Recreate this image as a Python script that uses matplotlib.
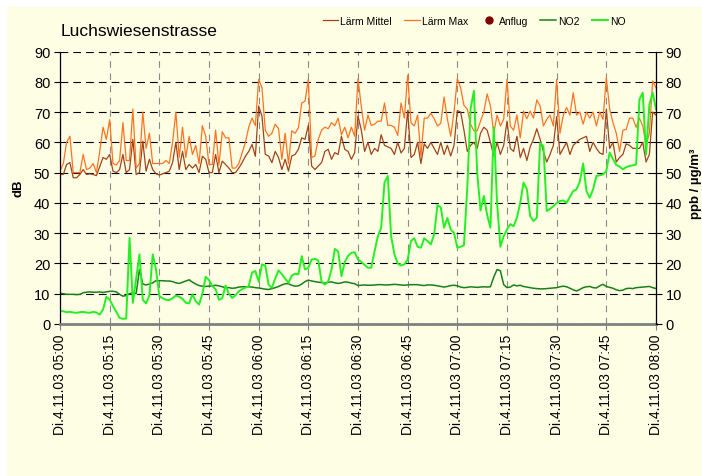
import numpy as np
import matplotlib.pyplot as plt
from matplotlib.patches import Rectangle

plt.rcParams['font.family'] = ['Liberation Sans', 'DejaVu Sans']

# -----------------------------
# DATA (one value per minute, 05:00 - 08:00)
# -----------------------------

title = "Luchswiesenstrasse"

tick_labels = [
    "Di.4.11.03 05:00", "Di.4.11.03 05:15", "Di.4.11.03 05:30",
    "Di.4.11.03 05:45", "Di.4.11.03 06:00", "Di.4.11.03 06:15",
    "Di.4.11.03 06:30", "Di.4.11.03 06:45", "Di.4.11.03 07:00",
    "Di.4.11.03 07:15", "Di.4.11.03 07:30", "Di.4.11.03 07:45",
    "Di.4.11.03 08:00",
]

laerm_mittel = [
    49.4, 49.4, 52.7, 53.3, 48.3, 48.3, 49.4, 51, 49.4, 49.6,
    49.4, 49, 52, 55, 54.4, 56, 50.5, 50, 51, 56,
    50, 51, 61, 49.4, 50, 60.4, 50.5, 54.4, 51, 49.6,
    49.2, 49.6, 50, 50.5, 53.3, 60, 51, 57, 51, 52.7,
    51.5, 52.7, 50, 55.4, 54.4, 50, 50, 56, 50, 53.8,
    52.7, 51.5, 50, 50, 51.5, 53.3, 55.4, 57, 59.3, 55.4,
    72, 68.7, 56, 55.5, 53.3, 57, 55, 51, 54.4, 50.5,
    55.5, 56, 57.7, 61.5, 61, 65.6, 52.2, 51, 52.2, 53.3,
    57, 57.7, 54.4, 56.6, 56, 62, 57.7, 57, 54.4, 56.6,
    68.7, 64, 57, 60, 56, 58, 57, 62.5, 59, 58.5,
    58, 56, 60, 56.5, 58, 70.5, 55, 56, 60, 53,
    59.5, 58, 60, 58, 56, 60, 56, 59, 55.5, 59,
    70.5, 70, 64, 57, 59, 60, 58, 63, 65, 64,
    60, 55.5, 60, 56, 59, 67, 58, 57, 62, 55,
    58, 54, 58.5, 61, 64.5, 61, 57, 53.5, 56, 59,
    68.5, 56, 58, 60, 56, 59, 60, 61, 61.5, 62,
    57, 60, 58, 56.5, 56, 71, 58, 60, 53.5, 55,
    56, 59.5, 59, 58, 58, 58, 60, 53.5, 56, 70,
    69,
]

laerm_max = [
    50.5, 53, 60, 62, 50, 50, 50, 56, 51, 51.5,
    53, 50, 57, 65, 61, 67.5, 53, 52.5, 54, 66.5,
    54, 54, 71, 51.5, 53, 70, 58, 63, 53, 53,
    53, 53, 54, 53, 60, 70, 55, 65, 55, 62,
    56, 59, 53, 65.5, 62, 52.7, 52.7, 64, 52.5, 63.5,
    61.5, 61.5, 51.5, 51.5, 53, 56.5, 60, 65, 68, 65.5,
    80.8, 78, 64, 62, 63, 66, 64.5, 54.4, 63, 53,
    63.8, 63, 64.8, 73, 73.6, 80.8, 55, 55.5, 61, 64,
    65, 64.5, 66.5, 65.5, 68, 62.5, 65, 61.5, 65, 62,
    81, 71.8, 64, 69, 65.6, 66, 67, 67, 73, 65.6,
    65.6, 65, 62.3, 73, 68, 82.2, 66.5, 65.4, 69, 55.4,
    68, 68, 69.6, 67.8, 65.4, 66.3, 75, 67.6, 62, 70,
    81, 78, 72.2, 71, 66, 63.8, 63.8, 67, 70, 76,
    72, 63, 69, 65.4, 67.6, 80.8, 65.4, 64, 69, 61.5,
    70.3, 67.8, 70.3, 68, 74, 72, 65.4, 67.6, 69, 65.4,
    80.8, 63, 69, 71.5, 69, 76.4, 69, 70, 66, 70,
    68, 70, 65.4, 70, 67.6, 81.4, 71, 66.5, 63, 57,
    64, 64.3, 68, 68, 65, 68, 65.4, 59, 63, 80.3,
    78,
]

no2 = [
    10.2, 10.0, 9.8, 9.8, 9.8, 9.7, 9.8, 10.3, 10.5, 10.6,
    10.5, 10.5, 10.6, 10.4, 10.6, 10.8, 10.8, 10.6, 9.8, 9.2,
    9.4, 10.0, 10.4, 10.0, 18.0, 13.2, 12.9, 13.2, 13.6, 14.3,
    14.3, 14.3, 14.2, 14.2, 14.0, 13.6, 13.4, 13.8, 14.2, 14.6,
    13.8, 13.2, 12.7, 12.5, 12.4, 12.5, 12.6, 12.8, 12.6, 12.3,
    12.0, 12.0, 11.8, 11.9, 12.2, 12.3, 12.3, 12.3, 12.2, 12.0,
    11.9, 11.7, 11.5, 11.4, 11.7, 12.0, 12.4, 12.9, 13.3, 13.3,
    12.8, 12.5, 12.6, 13.2, 14.0, 14.5, 14.2, 14.0, 13.8, 13.7,
    13.5, 13.8, 13.9, 13.6, 13.4, 13.6, 13.9, 13.8, 13.5, 13.3,
    12.7, 12.8, 12.9, 12.8, 12.8, 12.9, 13.0, 13.0, 12.9, 12.9,
    13.0, 13.1, 13.0, 12.9, 12.8, 12.9, 13.0, 13.0, 13.0, 12.8,
    12.7, 12.9, 12.9, 12.8, 12.6, 12.4, 12.2, 12.4, 12.7, 12.8,
    12.6, 12.2, 12.0, 12.1, 12.3, 12.2, 12.1, 12.2, 12.3, 12.2,
    12.3, 15.5, 18.0, 17.6, 13.0, 12.0, 12.2, 12.9, 12.6, 12.8,
    12.4, 12.2, 12.0, 11.8, 11.7, 11.6, 11.6, 11.7, 11.8, 11.9,
    12.0, 12.3, 12.5, 12.3, 11.8, 11.3, 10.9, 11.4, 12.0, 12.3,
    12.4, 12.0, 11.9, 12.6, 13.1, 12.4, 12.1, 11.8, 11.3, 11.0,
    11.2, 11.7, 11.8, 11.7, 12.0, 12.1, 12.2, 12.3, 12.4, 12.0,
    11.7,
]

no = [
    4.3, 4.2, 3.9, 4.0, 3.8, 3.7, 3.9, 4.0, 3.8, 3.7,
    4.0, 3.8, 3.1, 4.8, 9.0, 8.1, 5.9, 4.0, 2.0, 1.7,
    1.8, 28.5, 7.0, 15.0, 23.0, 8.0, 6.8, 9.5, 23.0, 18.0,
    9.2, 8.5, 8.0, 7.9, 8.5, 9.4, 9.0, 8.3, 7.0, 6.8,
    9.8, 7.5, 6.4, 10.0, 15.6, 14.5, 12.5, 11.5, 8.0, 8.5,
    12.7, 10.0, 8.6, 9.5, 10.8, 11.5, 12.0, 12.5, 17.0, 17.5,
    14.0, 19.7, 19.3, 13.0, 12.0, 15.0, 17.7, 16.5, 15.0, 13.6,
    16.0, 16.6, 16.4, 22.4, 18.0, 18.6, 21.3, 21.5, 21.0, 14.0,
    13.0, 14.0, 18.0, 24.8, 24.0, 15.8, 20.5, 22.5, 23.5, 23.7,
    21.3, 20.5, 19.5, 18.6, 18.6, 24.0, 29.0, 31.8, 46.7, 48.9,
    29.0, 23.0, 20.0, 19.3, 19.7, 21.3, 27.4, 28.3, 25.5, 25.2,
    28.3, 27.4, 26.3, 29.6, 39.3, 38.5, 31.8, 35.0, 31.2, 30.1,
    25.2, 25.5, 26.0, 45.0, 71.0, 77.0, 50.0, 37.5, 42.3, 36.0,
    31.8, 65.0, 40.0, 25.5, 29.0, 31.2, 33.0, 32.3, 35.1, 40.0,
    46.7, 44.5, 35.6, 34.0, 35.1, 59.8, 58.7, 37.3, 38.0, 38.9,
    40.0, 40.6, 40.8, 40.0, 42.0, 43.9, 44.5, 47.0, 53.0, 43.9,
    41.7, 44.5, 48.9, 49.1, 49.4, 50.5, 56.6, 54.5, 52.5, 52.0,
    51.1, 51.8, 52.2, 52.4, 52.7, 74.2, 76.4, 56.0, 72.5, 76.4,
    70.9,
]

anflug = []  # keine Anflüge in diesem Zeitraum

minutes = np.arange(len(laerm_max))
tick_pos = np.arange(0, 181, 15)

# -----------------------------
# FIGURE
# -----------------------------

W, H = 702, 477
fig = plt.figure(figsize=(W / 100, H / 100), dpi=100)
fig.patches.append(Rectangle((7 / W, 0), 1 - 7 / W, 1 - 8 / H,
                             transform=fig.transFigure,
                             facecolor="#fefee4", edgecolor="none", zorder=-10))

ax = fig.add_axes([60 / W, 1 - 325 / H, 596 / W, 272.5 / H])
ax.set_facecolor("none")

ax.plot(minutes, laerm_mittel, color="#a0441c", lw=0.9, label="Lärm Mittel")
ax.plot(minutes, laerm_max, color="#ff7320", lw=0.9, label="Lärm Max")
ax.plot(anflug, anflug, "o", color="#800000", ms=5, label="Anflug")
ax.plot(minutes, no2, color="#1a7f1a", lw=1.1, label="NO2")
ax.plot(minutes, no, color="#22f022", lw=1.4, label="NO")

ax.set_xlim(0, 180)
ax.set_ylim(0, 90)
ax.set_yticks(range(0, 91, 10))
ax.set_xticks(tick_pos)
ax.set_xticklabels(tick_labels, rotation=90, fontsize=10)

ax.set_axisbelow(True)
ax.yaxis.grid(True, color="black", linestyle=(0, (7, 4.5)), lw=0.8)
ax.xaxis.grid(True, color="#8a8a8a", linestyle=(0, (6, 5)), lw=0.8)

ax.spines["top"].set_visible(False)
ax.spines["right"].set_visible(False)
ax.spines["left"].set_color("black")
ax.spines["left"].set_linewidth(0.9)
ax.spines["bottom"].set_color("#808080")
ax.spines["bottom"].set_linewidth(2)

ax.tick_params(axis="y", length=4, width=0.8, labelsize=10.5, pad=3)
ax.tick_params(axis="x", length=4, width=0.8, color="#808080", pad=3)

ax.set_ylabel("dB", fontsize=9.5, fontweight="bold")
ax.yaxis.set_label_coords(-0.06, 0.5)

ax2 = ax.twinx()
ax2.set_ylim(0, 90)
ax2.set_yticks(range(0, 91, 10))
for s in ["top", "left", "bottom"]:
    ax2.spines[s].set_visible(False)
ax2.spines["right"].set_color("black")
ax2.spines["right"].set_linewidth(0.9)
ax2.tick_params(axis="y", length=4, width=0.8, labelsize=10.5, pad=3)
ax2.set_ylabel("ppb / µg/m³", fontsize=9.5, fontweight="bold")
ax2.yaxis.set_label_coords(1.057, 0.52)

fig.text(61 / W, 1 - 31 / H, title, fontsize=12.5, va="center", ha="left")

handles, labels = ax.get_legend_handles_labels()
fig.legend(handles, labels, loc="center", bbox_to_anchor=(474 / W, 1 - 22 / H),
           ncol=5, frameon=False, fontsize=7.5, handlelength=1.5,
           handletextpad=0.2, columnspacing=1.2)

fig.savefig("out.png", dpi=100)
